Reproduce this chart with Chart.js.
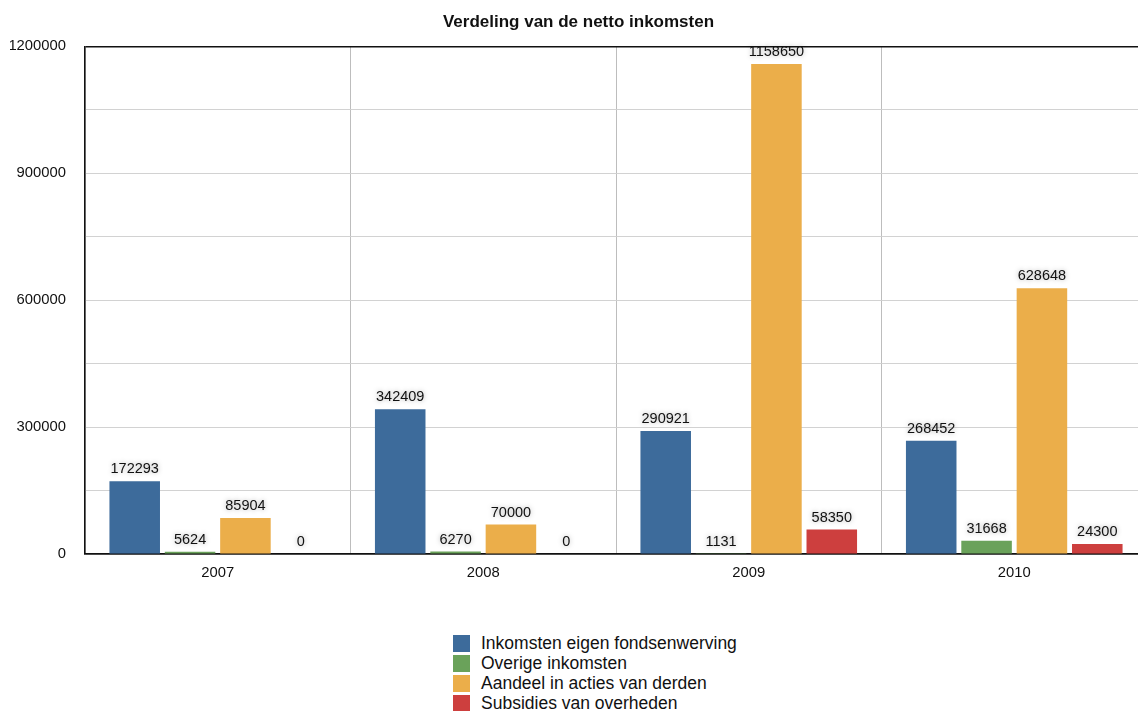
<!DOCTYPE html>
<html>
<head>
<meta charset="utf-8">
<script src="https://cdn.jsdelivr.net/npm/chart.js@4/dist/chart.umd.min.js"></script>
<style>
  html, body { margin: 0; padding: 0; background: #fff; overflow: hidden; width: 1138px; height: 711px; }
  #wrap { position: absolute; left: 0; top: 0; width: 1232px; height: 602px; }
  #legend { position: absolute; left: 453px; top: 633px; font-family: 'Liberation Sans', Arial, Helvetica, sans-serif; font-size: 17.5px; color: #111; }
  .row { display: flex; align-items: center; height: 20px; }
  .sw { width: 17px; height: 17px; margin-right: 11px; }
</style>
</head>
<body>
<div id="wrap"><canvas id="c" width="1232" height="602"></canvas></div>
<div id="legend"></div>
<script>
const categories = ['2007', '2008', '2009', '2010'];
const seriesNames = ['Inkomsten eigen fondsenwerving', 'Overige inkomsten', 'Aandeel in acties van derden', 'Subsidies van overheden'];
const eigenFondsenwerving = [172293, 342409, 290921, 268452];
const overigeInkomsten = [5624, 6270, 1131, 31668];
const aandeelActiesDerden = [85904, 70000, 1158650, 628648];
const subsidiesOverheden = [0, 0, 58350, 24300];
const seriesColors = ['#3d6b9b', '#6aa25a', '#ebae4a', '#cd3f3e'];
const yMax = 1200000;
const yGridStep = 150000;
const yLabelStep = 300000;

const FONT = "'Liberation Sans', Arial, Helvetica, sans-serif";

const valueLabels = {
  id: 'valueLabels',
  afterDatasetsDraw(chart) {
    const ctx = chart.ctx;
    ctx.save();
    ctx.font = '14.5px ' + FONT;
    ctx.textAlign = 'center';
    ctx.textBaseline = 'middle';
    ctx.fillStyle = '#111';
    ctx.shadowColor = 'rgba(0,0,0,0.35)';
    ctx.shadowBlur = 5;
    chart.data.datasets.forEach((ds, i) => {
      const meta = chart.getDatasetMeta(i);
      meta.data.forEach((el, j) => {
        ctx.fillText(String(ds.data[j]), el.x, el.y - 12);
      });
    });
    ctx.restore();
  }
};

const dataSeries = [eigenFondsenwerving, overigeInkomsten, aandeelActiesDerden, subsidiesOverheden];

const chart = new Chart(document.getElementById('c'), {
  type: 'bar',
  data: {
    labels: categories,
    datasets: dataSeries.map((d, i) => ({
      label: seriesNames[i],
      data: d,
      backgroundColor: seriesColors[i],
      borderWidth: 0,
      categoryPercentage: 0.834,
      barPercentage: 0.913
    }))
  },
  options: {
    responsive: false,
    animation: false,
    devicePixelRatio: 1,
    layout: { padding: { left: 10, right: 85, top: 0, bottom: 10 } },
    plugins: {
      legend: { display: false },
      tooltip: { enabled: false },
      title: {
        display: true,
        text: 'Verdeling van de netto inkomsten',
        color: '#111',
        font: { family: FONT, size: 17, weight: 'bold' },
        padding: { top: 12, bottom: 14 }
      }
    },
    scales: {
      x: {
        grid: { color: '#bdbdbd', lineWidth: 1, drawTicks: false, offset: true },
        border: { color: '#111', width: 1.5 },
        ticks: { color: '#111', font: { family: FONT, size: 14.8 }, padding: 10 }
      },
      y: {
        min: 0,
        max: yMax,
        afterFit: (scale) => { scale.width = 75; },
        grid: {
          drawTicks: false,
          color: (c) => (c.tick && (c.tick.value === 0 || c.tick.value === yMax)) ? '#111' : '#d2d2d2',
          lineWidth: (c) => (c.tick && (c.tick.value === 0 || c.tick.value === yMax)) ? 1.5 : 1
        },
        border: { color: '#111', width: 1.5 },
        ticks: {
          stepSize: yGridStep,
          color: '#111',
          font: { family: FONT, size: 14.8 },
          padding: 19,
          callback: (v) => (v % yLabelStep === 0 ? String(v) : '')
        }
      }
    }
  },
  plugins: [valueLabels]
});

const legend = document.getElementById('legend');
chart.data.datasets.forEach((ds) => {
  const row = document.createElement('div');
  row.className = 'row';
  const sw = document.createElement('span');
  sw.className = 'sw';
  sw.style.background = ds.backgroundColor;
  const tx = document.createElement('span');
  tx.textContent = ds.label;
  row.appendChild(sw);
  row.appendChild(tx);
  legend.appendChild(row);
});
</script>
</body>
</html>
